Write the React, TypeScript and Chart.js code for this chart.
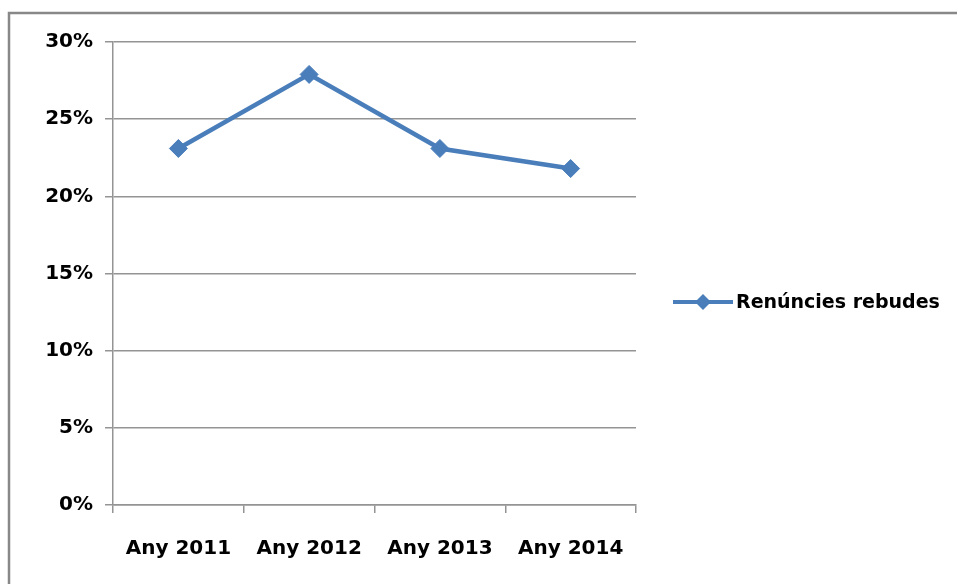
import React, { useEffect, useRef } from "react";
import { Chart, registerables } from "chart.js";

Chart.register(...registerables);

const categories = ["Any 2011", "Any 2012", "Any 2013", "Any 2014"];
const seriesLabel = "Renúncies rebudes";
const seriesValues = [0.231, 0.279, 0.231, 0.218];
const yTicks = [0, 0.05, 0.1, 0.15, 0.2, 0.25, 0.3];

const FONT = "'DejaVu Sans', sans-serif";
const LINE_COLOR = "#4a7ebb";
const GRID_COLOR = "#949494";

const framePlugin = {
  id: "frame",
  beforeDraw(chart: any) {
    const ctx = chart.ctx;
    ctx.save();
    ctx.strokeStyle = "#888888";
    ctx.lineWidth = 2.5;
    ctx.strokeRect(9, 13, 1000, 700);
    ctx.restore();
  },
};

const legendPlugin = {
  id: "customLegend",
  afterDraw(chart: any) {
    const ctx = chart.ctx;
    const ds = chart.data.datasets[0];
    const y = 302;
    ctx.save();
    ctx.strokeStyle = ds.borderColor;
    ctx.lineWidth = 4;
    ctx.beginPath();
    ctx.moveTo(673, y);
    ctx.lineTo(733, y);
    ctx.stroke();
    ctx.fillStyle = ds.borderColor;
    ctx.beginPath();
    const r = 8;
    ctx.moveTo(703 - r, y);
    ctx.lineTo(703, y - r);
    ctx.lineTo(703 + r, y);
    ctx.lineTo(703, y + r);
    ctx.closePath();
    ctx.fill();
    ctx.fillStyle = "#000";
    ctx.font = `bold 19px ${FONT}`;
    ctx.textAlign = "left";
    ctx.textBaseline = "middle";
    ctx.fillText(ds.label, 736, y + 1);
    ctx.restore();
  },
};

export default function App() {
  const ref = useRef<HTMLCanvasElement | null>(null);

  useEffect(() => {
    document.body.style.margin = "0";
    if (!ref.current) return;
    const chart = new Chart(ref.current, {
      type: "line",
      data: {
        labels: categories,
        datasets: [
          {
            label: seriesLabel,
            data: seriesValues,
            borderColor: LINE_COLOR,
            backgroundColor: LINE_COLOR,
            borderWidth: 4.5,
            pointStyle: "rectRot",
            pointRadius: 9,
            pointBorderWidth: 1,
            pointBackgroundColor: LINE_COLOR,
            pointBorderColor: LINE_COLOR,
            tension: 0,
          },
        ],
      },
      options: {
        animation: false,
        responsive: false,
        maintainAspectRatio: false,
        layout: { padding: { left: 0, top: 42, right: 321, bottom: 19 } },
        plugins: {
          legend: { display: false },
          tooltip: { enabled: false },
        },
        scales: {
          x: {
            type: "category",
            offset: true,
            grid: {
              offset: true,
              drawOnChartArea: false,
              drawTicks: true,
              tickLength: 8,
              color: GRID_COLOR,
              lineWidth: 1.5,
            },
            border: { color: GRID_COLOR, width: 1.5 },
            ticks: {
              color: "#000",
              font: { family: FONT, weight: "bold", size: 20 },
              padding: 24,
              maxRotation: 0,
              autoSkip: false,
            },
            afterFit(scale: any) {
              scale.height = 60;
            },
          },
          y: {
            min: 0,
            max: 0.3,
            afterBuildTicks(scale: any) {
              scale.ticks = yTicks.map((v) => ({ value: v }));
            },
            grid: {
              color: GRID_COLOR,
              lineWidth: 1.5,
              tickLength: 8,
            },
            border: { color: GRID_COLOR, width: 1.5 },
            ticks: {
              color: "#000",
              font: { family: FONT, weight: "bold", size: 20 },
              padding: 12,
              callback: (v: any) => `${Math.round(Number(v) * 100)}%`,
            },
            afterFit(scale: any) {
              scale.width = 113;
            },
          },
        },
      },
      plugins: [framePlugin, legendPlugin],
    });
    return () => chart.destroy();
  }, []);

  return (
    <div style={{ width: 957, height: 584 }}>
      <canvas ref={ref} width={957} height={584} style={{ display: "block" }} />
    </div>
  );
}
